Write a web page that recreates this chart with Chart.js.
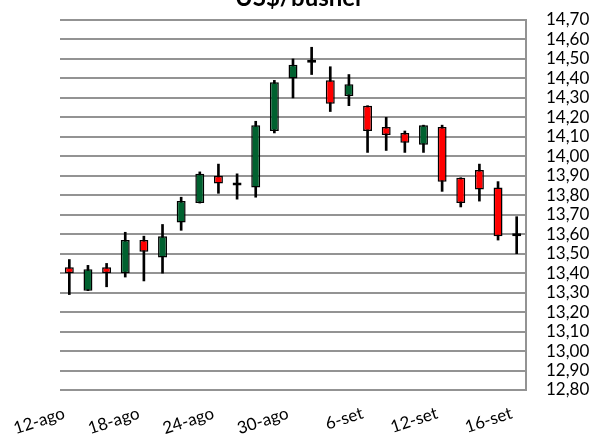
<!DOCTYPE html>
<html>
<head>
<meta charset="utf-8">
<script src="https://cdn.jsdelivr.net/npm/chart.js@4"></script>
<style>
  html, body { margin: 0; padding: 0; background: #fff; }
  #wrap { width: 595px; height: 437px; }
</style>
</head>
<body>
<div id="wrap"><canvas id="myChart" width="595" height="437"></canvas></div>
<script>
// Trading days (2016), only every 4th gets a label
var dates = ["12-ago", "15-ago", "16-ago", "17-ago", "18-ago", "19-ago", "22-ago", "23-ago", "24-ago",
             "25-ago", "26-ago", "29-ago", "30-ago", "31-ago", "1-set", "2-set", "6-set", "7-set",
             "8-set", "9-set", "12-set", "13-set", "14-set", "15-set", "16-set"];

// Daily prices, US$/bushel
var open_ = [13.43, 13.31, 13.43, 13.40, 13.57, 13.48, 13.66, 13.76, 13.90, 13.85, 13.84, 14.13, 14.40,
             14.48, 14.39, 14.31, 14.26, 14.15, 14.12, 14.06, 14.15, 13.89, 13.93, 13.84, 13.59];
var high_ = [13.47, 13.44, 13.45, 13.61, 13.59, 13.65, 13.79, 13.92, 13.96, 13.91, 14.18, 14.39, 14.50,
             14.56, 14.46, 14.42, 14.26, 14.20, 14.13, 14.16, 14.16, 13.89, 13.96, 13.87, 13.69];
var low_  = [13.29, 13.31, 13.33, 13.38, 13.36, 13.40, 13.62, 13.76, 13.81, 13.78, 13.79, 14.12, 14.30,
             14.42, 14.23, 14.26, 14.02, 14.03, 14.02, 14.02, 13.82, 13.74, 13.77, 13.57, 13.50];
var close_ = [13.40, 13.42, 13.40, 13.57, 13.51, 13.59, 13.77, 13.91, 13.86, 13.85, 14.16, 14.38, 14.47,
              14.48, 14.27, 14.37, 14.13, 14.11, 14.07, 14.16, 13.87, 13.76, 13.83, 13.59, 13.59];

// Price axis
var yMin = 12.8;
var yMax = 14.7;
var yStep = 0.1;

var title_text = "US$/bushel";
var font_family = "Lato, 'Open Sans', sans-serif";

// Body and wick ranges built from the price arrays
var bodies = dates.map((d, i) => [open_[i], close_[i]]);
var wicks = dates.map((d, i) => [low_[i], high_[i]]);

function bodyColor(i) {
    if (close_[i] > open_[i]) return "#00612f";
    if (close_[i] < open_[i]) return "#ff0000";
    return "#000000";
}

// Title is cut by the top edge in the original
const titlePlugin = {
    id: 'cutTitle',
    afterDraw(chart) {
        const ctx = chart.ctx;
        ctx.save();
        ctx.font = "bold 24px " + font_family;
        ctx.fillStyle = "#000";
        ctx.textAlign = "center";
        ctx.textBaseline = "alphabetic";
        ctx.fillText(title_text, 298, 6);
        ctx.restore();
    }
};

var ctx = document.getElementById('myChart').getContext('2d');

var myChart = new Chart(ctx, {
    type: 'bar',
    data: {
        labels: dates,
        datasets: [{
            label: 'body',
            data: bodies,
            backgroundColor: dates.map((d, i) => bodyColor(i)),
            borderColor: "#000",
            borderWidth: 1.5,
            borderSkipped: false,
            minBarLength: 3,
            grouped: false,
            barPercentage: 0.48,
            categoryPercentage: 1
        }, {
            label: 'wick',
            data: wicks,
            backgroundColor: "#000",
            borderWidth: 0,
            barThickness: 2,
            grouped: false
        }]
    },
    options: {
        responsive: false,
        animation: false,
        layout: { padding: { left: 60, top: 20, right: 0, bottom: 0 } },
        plugins: {
            legend: { display: false },
            tooltip: { enabled: false },
            title: { display: false }
        },
        scales: {
            x: {
                grid: { display: false, drawTicks: false },
                border: { display: false },
                afterFit: (s) => {
                    s.height = 47;
                    s.paddingLeft = 0;
                    s.paddingRight = 0;
                },
                ticks: {
                    autoSkip: false,
                    maxRotation: 18,
                    minRotation: 18,
                    padding: 13,
                    labelOffset: -5,
                    color: "#000",
                    font: { family: font_family, size: 17 },
                    callback: function(val, index) {
                        return index % 4 === 0 ? dates[index] : '';
                    }
                }
            },
            y: {
                position: 'right',
                min: yMin,
                max: yMax,
                grid: { color: "#939393", lineWidth: 2, drawTicks: false },
                border: { display: true, color: "#939393", width: 2 },
                afterFit: (s) => {
                    s.width = 69;
                    s.paddingTop = 0;
                    s.paddingBottom = 0;
                },
                ticks: {
                    stepSize: yStep,
                    autoSkip: false,
                    padding: 20,
                    color: "#000",
                    font: { family: font_family, size: 17 },
                    callback: (v) => v.toFixed(2).replace('.', ',')
                }
            }
        }
    },
    plugins: [titlePlugin]
});
</script>
</body>
</html>
